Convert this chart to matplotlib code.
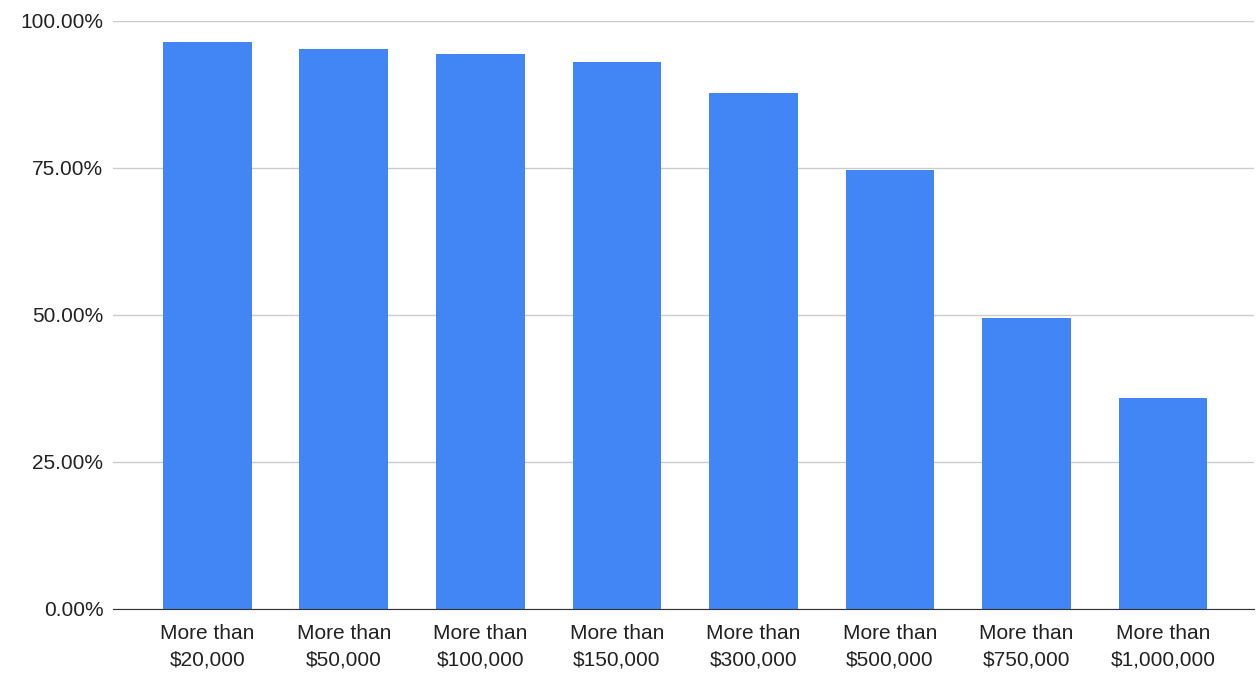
import matplotlib
matplotlib.use("Agg")
import matplotlib.pyplot as plt
from matplotlib.ticker import FuncFormatter

# data
categories = ["More than\n$20,000", "More than\n$50,000", "More than\n$100,000",
              "More than\n$150,000", "More than\n$300,000", "More than\n$500,000",
              "More than\n$750,000", "More than\n$1,000,000"]
shares = [96.4, 95.2, 94.4, 93.1, 87.8, 74.7, 49.5, 35.8]
y_ticks = [0, 25, 50, 75, 100]

plt.rcParams["font.family"] = ["Liberation Sans", "DejaVu Sans"]

fig = plt.figure(figsize=(12.57, 6.73), dpi=100)
ax = fig.add_axes([0.09, 0.0951, 0.908, 0.8737])

x = range(len(categories))
ax.bar(x, shares, width=0.65, color="#4285F4", zorder=3)

ax.set_ylim(0, 100)
ax.set_xlim(-0.69, 7.67)
ax.set_yticks(y_ticks)
ax.yaxis.set_major_formatter(FuncFormatter(lambda v, p: f"{v:.2f}%"))
ax.set_xticks(list(x))
ax.set_xticklabels(categories, linespacing=1.45)

ax.grid(axis="y", color="#cccccc", linewidth=1, zorder=0)
for side in ["top", "right", "left"]:
    ax.spines[side].set_visible(False)
ax.spines["bottom"].set_color("#333333")
ax.spines["bottom"].set_zorder(4)

ax.tick_params(axis="both", length=0, labelsize=15, colors="#222222")
ax.tick_params(axis="y", pad=7)
ax.tick_params(axis="x", pad=11)

fig.savefig("out.png", dpi=100)
